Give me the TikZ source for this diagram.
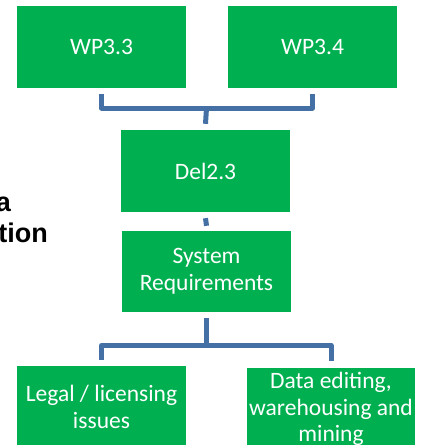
\documentclass[tikz,border=0pt]{standalone}
\usepackage{fontspec}
\setmainfont{Carlito}
\newfontfamily\arialbold{Liberation Sans}[Scale=1]
\definecolor{boxgreen}{RGB}{0,176,80}
\definecolor{connblue}{RGB}{68,112,166}
\tikzset{
  gbox/.style={fill=boxgreen, draw=none, minimum width=169pt, minimum height=82pt,
    inner sep=0pt, text=white, align=center,
    font=\fontsize{23.5pt}{26.5pt}\selectfont},
  conn/.style={draw=connblue, line width=5pt, line join=round},
  sidetext/.style={anchor=base east, inner sep=0pt, text=black,
    font=\arialbold\bfseries\fontsize{27pt}{31pt}\selectfont}
}
\begin{document}
\begin{tikzpicture}[x=1pt,y=-1pt]
\useasboundingbox (0,0) rectangle (422,445);
\clip (0,0) rectangle (422,445);
\node[gbox] (wp33) at (101.5,47) {WP3.3};
\node[gbox] (wp34) at (312.5,47) {WP3.4};
\node[gbox] (del) at (205.5,171) {Del2.3};
\node[gbox, minimum height=81pt] (sys) at (206.5,271.5) {System\\Requirements};
\node[gbox] (legal) at (101.5,407) {Legal / licensing\\issues};
\node[gbox, minimum width=168pt] (data) at (331,409) {Data editing,\\warehousing and\\mining};
\node[sidetext] (sa) at (11,211) {a};
\node[sidetext] (sb) at (48,242) {tion};
\coordinate (j1) at (206.5,108);
\coordinate (j2) at (206.5,345.5);
\draw[conn] ([yshift=-6pt]wp33.south) |- (j1) -| ([yshift=-6pt]wp34.south);
\draw[conn] (j1) -- ([yshift=6pt]del.north);
\draw[conn] ([yshift=-6pt]del.south) -- ([yshift=5pt]sys.north);
\draw[conn] ([yshift=-6pt]sys.south) -- (j2);
\draw[conn] ([yshift=6pt]legal.north) |- (j2) -| ([yshift=7pt]data.north);
\end{tikzpicture}
\end{document}
